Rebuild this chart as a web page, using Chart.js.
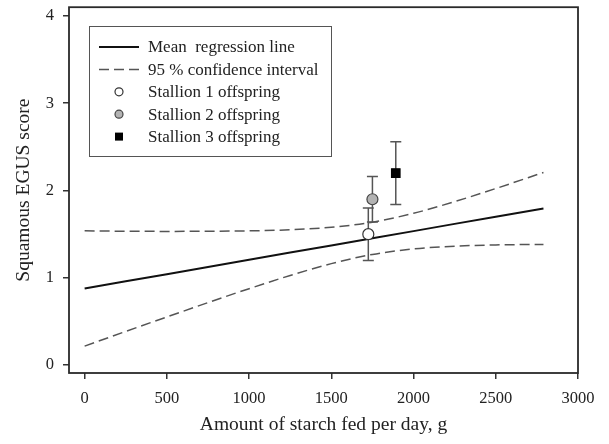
<!DOCTYPE html>
<html>
<head>
<meta charset="utf-8">
<script src="https://cdn.jsdelivr.net/npm/chart.js@4/dist/chart.umd.min.js"></script>
<style>
  html, body { margin: 0; padding: 0; background: #fff; }
  canvas { display: block; }
</style>
</head>
<body>
<canvas id="chart" width="609" height="444"></canvas>
<script>
// regression line and its 95 % band
const starchGrid = [0, 250, 500, 750, 1000, 1250, 1500, 1750, 2000, 2250, 2500, 2790];
const meanScore  = [0.878, 0.960, 1.042, 1.125, 1.207, 1.289, 1.371, 1.453, 1.535, 1.618, 1.700, 1.795];
const upperCI    = [1.538, 1.534, 1.532, 1.534, 1.538, 1.551, 1.579, 1.638, 1.739, 1.873, 2.023, 2.207];
const lowerCI    = [0.218, 0.386, 0.552, 0.716, 0.876, 1.027, 1.163, 1.268, 1.331, 1.363, 1.377, 1.383];

// offspring means with error bars
const stallionLabels = ['Stallion 1 offspring', 'Stallion 2 offspring', 'Stallion 3 offspring'];
const stallionStarch = [1725, 1750, 1892];
const stallionScore  = [1.50, 1.90, 2.20];
const stallionLow    = [1.20, 1.64, 1.84];
const stallionHigh   = [1.80, 2.16, 2.56];

const xTicks = [0, 500, 1000, 1500, 2000, 2500, 3000];
const yTicks = [0, 1, 2, 3, 4];

const FONT = "'Liberation Serif', 'Times New Roman', serif";
const INK = '#222';

const toXY = (xs, ys) => xs.map((x, i) => ({ x: x, y: ys[i] }));

const pointStyles = [
  { pointStyle: 'circle', radius: 5.5, bg: '#ffffff', border: '#333' },
  { pointStyle: 'circle', radius: 5.5, bg: '#b3b3b3', border: '#444' },
  { pointStyle: 'rect',   radius: 6,   bg: '#000000', border: '#000' }
];

const stallionSets = stallionLabels.map((lab, i) => ({
  type: 'scatter',
  label: lab,
  data: [{ x: stallionStarch[i], y: stallionScore[i] }],
  pointStyle: pointStyles[i].pointStyle,
  pointRadius: pointStyles[i].radius,
  backgroundColor: pointStyles[i].bg,
  borderColor: pointStyles[i].border,
  borderWidth: 1.2,
  order: 0
}));

// error bars behind the markers
const errorBars = {
  id: 'errorBars',
  beforeDatasetsDraw(chart) {
    const { ctx, scales: { x, y } } = chart;
    ctx.save();
    ctx.strokeStyle = '#555';
    ctx.lineWidth = 1.5;
    stallionStarch.forEach((s, i) => {
      const px = x.getPixelForValue(s);
      const top = y.getPixelForValue(stallionHigh[i]);
      const bot = y.getPixelForValue(stallionLow[i]);
      ctx.beginPath();
      ctx.moveTo(px, top); ctx.lineTo(px, bot);
      ctx.moveTo(px - 5.5, top); ctx.lineTo(px + 5.5, top);
      ctx.moveTo(px - 5.5, bot); ctx.lineTo(px + 5.5, bot);
      ctx.stroke();
    });
    ctx.restore();
  }
};

// closed frame round the plot
const frame = {
  id: 'frame',
  afterDraw(chart) {
    const { ctx, chartArea: a } = chart;
    ctx.save();
    ctx.strokeStyle = '#2a2a2a';
    ctx.lineWidth = 1.8;
    ctx.strokeRect(a.left, a.top, a.right - a.left, a.bottom - a.top);
    ctx.restore();
  }
};

// boxed legend inside the plot, top left
const boxLegend = {
  id: 'boxLegend',
  afterDraw(chart) {
    const { ctx } = chart;
    const ds = chart.data.datasets;
    ctx.save();
    ctx.fillStyle = '#fff';
    ctx.fillRect(89, 26, 243, 131);
    ctx.strokeStyle = '#555';
    ctx.lineWidth = 1;
    ctx.strokeRect(89.5, 26.5, 242, 130);

    const rows = [
      { text: 'Mean  regression line', ds: ds[0] },
      { text: '95 % confidence interval', ds: ds[1] },
      { text: stallionLabels[0], ds: ds[3] },
      { text: stallionLabels[1], ds: ds[4] },
      { text: stallionLabels[2], ds: ds[5] }
    ];
    ctx.font = '17px ' + FONT;
    ctx.textBaseline = 'middle';
    rows.forEach((r, i) => {
      const yy = 47 + i * 22.4;
      if (r.ds.type === 'line') {
        ctx.strokeStyle = r.ds.borderColor;
        ctx.lineWidth = r.ds.borderWidth;
        ctx.setLineDash(r.ds.borderDash || []);
        ctx.beginPath();
        ctx.moveTo(99, yy); ctx.lineTo(139, yy);
        ctx.stroke();
        ctx.setLineDash([]);
      } else {
        ctx.fillStyle = r.ds.backgroundColor;
        ctx.strokeStyle = r.ds.borderColor;
        ctx.lineWidth = 1.2;
        if (r.ds.pointStyle === 'rect') {
          ctx.fillRect(115, yy - 4, 8, 8);
        } else {
          ctx.beginPath();
          ctx.arc(119, yy, 4, 0, Math.PI * 2);
          ctx.fill(); ctx.stroke();
        }
      }
      ctx.fillStyle = INK;
      ctx.fillText(r.text, 148, yy + 1);
    });
    ctx.restore();
  }
};

new Chart(document.getElementById('chart'), {
  data: {
    datasets: [
      {
        type: 'line', label: 'Mean regression line',
        data: toXY(starchGrid, meanScore),
        borderColor: '#111', borderWidth: 2, pointRadius: 0, fill: false, order: 1
      },
      {
        type: 'line', label: '95 % confidence interval',
        data: toXY(starchGrid, upperCI),
        borderColor: '#555', borderWidth: 1.5, borderDash: [10, 5],
        pointRadius: 0, fill: false, cubicInterpolationMode: 'monotone', order: 2
      },
      {
        type: 'line', label: '95 % confidence interval (lower)',
        data: toXY(starchGrid, lowerCI),
        borderColor: '#555', borderWidth: 1.5, borderDash: [10, 5],
        pointRadius: 0, fill: false, cubicInterpolationMode: 'monotone', order: 2
      },
      ...stallionSets
    ]
  },
  options: {
    responsive: false,
    animation: false,
    devicePixelRatio: 1,
    layout: { padding: { left: 0, right: 31, top: 7, bottom: 0 } },
    plugins: { legend: { display: false }, tooltip: { enabled: false } },
    scales: {
      x: {
        type: 'linear',
        min: -95, max: 3000,
        afterBuildTicks: s => { s.ticks = xTicks.map(v => ({ value: v })); },
        afterFit: s => { s.height = 71; s.paddingLeft = 0; s.paddingRight = 0; },
        grid: { drawOnChartArea: false, drawTicks: true, tickLength: 6, color: '#333', lineWidth: 1.5 },
        border: { display: false },
        ticks: {
          color: INK, font: { family: FONT, size: 16.5 }, padding: 10, maxRotation: 0,
          callback: v => String(v)
        },
        title: {
          display: true, text: 'Amount of starch fed per day, g',
          color: INK, font: { family: FONT, size: 19.5 }, padding: { top: 0, bottom: 7 }
        }
      },
      y: {
        type: 'linear',
        min: -0.09, max: 4.1,
        afterBuildTicks: s => { s.ticks = yTicks.map(v => ({ value: v })); },
        afterFit: s => { s.width = 69; s.paddingTop = 0; s.paddingBottom = 0; },
        grid: { drawOnChartArea: false, drawTicks: true, tickLength: 6, color: '#333', lineWidth: 1.5 },
        border: { display: false },
        ticks: { color: INK, font: { family: FONT, size: 16.5 }, padding: 9, callback: v => String(v) },
        title: {
          display: true, text: 'Squamous EGUS score',
          color: INK, font: { family: FONT, size: 19.5 }, padding: { top: 12, bottom: 0 }
        }
      }
    }
  },
  plugins: [errorBars, frame, boxLegend]
});
</script>
</body>
</html>
